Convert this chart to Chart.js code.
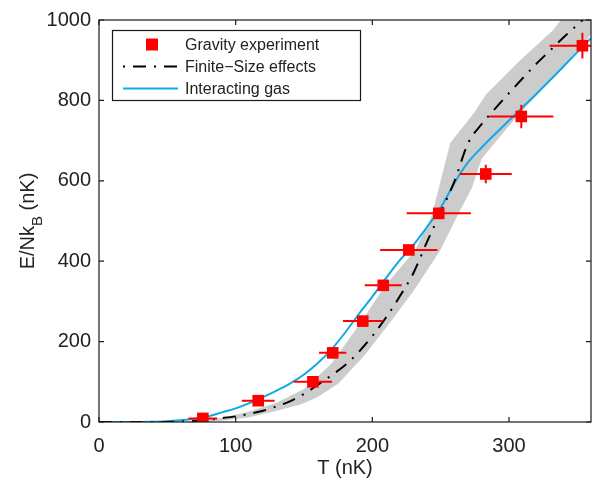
<!DOCTYPE html>
<html>
<head>
<meta charset="utf-8">
<script src="https://cdn.jsdelivr.net/npm/chart.js@4.4.0/dist/chart.umd.min.js"></script>
<style>
  html, body { margin: 0; padding: 0; background: #fff; }
  #wrap { width: 601px; height: 485px; position: relative; }
</style>
</head>
<body>
<div id="wrap"><canvas id="myChart"></canvas></div>
<script>
const xTicks = [0, 100, 200, 300]
const yTicks = [0, 200, 400, 600, 800, 1000]

// Gravity experiment
const expT = [76, 116.5, 156.5, 171, 193, 208, 226.7, 248.6, 283, 309, 353.7]
const expE = [9, 53, 100, 172, 251, 340, 428, 519, 617, 760, 936]
const expTErr = [10.5, 12, 14, 10, 14.5, 13.5, 21, 23.5, 19, 23.5, 24]
const expEErr = [6, 6, 8, 14, 12, 12, 12, 14, 23, 29, 32]

// Interacting gas
const blueT = [0, 30, 40, 50, 60, 70, 80, 90, 100, 110, 120, 130, 140, 150, 160, 170, 180, 190, 200, 210, 220, 230, 240, 250, 260, 265, 270, 280, 290, 300, 310, 320, 330, 340, 350, 360]
const blueE = [0, 0.3, 0.8, 2, 4.5, 8, 14, 24, 34, 47, 62, 78, 96, 118, 146, 180, 222, 268, 312, 358, 402, 440, 485, 533, 594, 622, 646, 683, 717, 750, 783, 816, 850, 885, 920, 955]

// Finite-Size effects
const blackT = [0, 40, 60, 75, 88, 100, 111, 120, 130, 140, 150, 160, 170, 180, 190, 200, 210, 220, 230, 240, 250, 260, 270, 280, 290, 300, 310, 320, 330, 340, 350, 354]
const blackE = [0, 0.2, 1, 4, 9, 14, 21, 28, 39, 52, 70, 92, 116, 141, 174, 214, 260, 312, 370, 448, 522, 598, 693, 741, 780, 818, 855, 891, 924, 957, 988, 1000]

// grey band edges
const bandUpperT = [60, 90, 110, 130, 150, 170, 190, 210, 231, 243, 250, 257, 275, 283, 307, 332, 338, 375]
const bandUpperE = [0, 10, 26, 48, 82, 145, 240, 342, 426, 508, 600, 694, 772, 814, 896, 974, 1000, 1000]
const bandLowerT = [60, 90, 110, 130, 148, 160, 175, 194, 214, 231, 249.5, 264, 272.8, 280, 292.4, 307, 331.6, 356, 362, 375]
const bandLowerE = [0, 3, 12, 28, 44, 62, 95, 165, 252, 330, 426, 525, 582, 655, 706, 764, 855, 945, 975, 1000]

const toPts = (xs, ys) => xs.map((v, i) => ({ x: v, y: ys[i] }))
const bandPts = toPts(bandUpperT, bandUpperE).concat(toPts(bandLowerT, bandLowerE).reverse())

const fontName = '"Liberation Sans", Arial, Helvetica, sans-serif'
const textColor = '#222'
const blackDash = [13, 8, 2, 8]

const framePlugin = {
    id: 'frame',
    afterDatasetsDraw(chart) {
        const { ctx, chartArea: a, scales: { x, y } } = chart
        ctx.save()
        ctx.beginPath()
        ctx.rect(a.left, a.top, a.right - a.left, a.bottom - a.top)
        ctx.clip()
        ctx.strokeStyle = '#ff0000'
        ctx.lineWidth = 2
        expT.forEach((t, i) => {
            const px = x.getPixelForValue(t)
            const py = y.getPixelForValue(expE[i])
            ctx.beginPath()
            ctx.moveTo(x.getPixelForValue(t - expTErr[i]), py)
            ctx.lineTo(x.getPixelForValue(t + expTErr[i]), py)
            ctx.moveTo(px, y.getPixelForValue(expE[i] - expEErr[i]))
            ctx.lineTo(px, y.getPixelForValue(expE[i] + expEErr[i]))
            ctx.stroke()
        })
        ctx.restore()
    },
    afterDraw(chart) {
        const { ctx, chartArea: a, scales: { x, y } } = chart
        ctx.save()
        // box + inward ticks
        ctx.strokeStyle = '#1a1a1a'
        ctx.lineWidth = 1.2
        ctx.strokeRect(a.left, a.top, a.right - a.left, a.bottom - a.top)
        ctx.beginPath()
        xTicks.forEach(v => {
            const px = x.getPixelForValue(v)
            ctx.moveTo(px, a.bottom); ctx.lineTo(px, a.bottom - 5)
            ctx.moveTo(px, a.top); ctx.lineTo(px, a.top + 5)
        })
        yTicks.forEach(v => {
            const py = y.getPixelForValue(v)
            ctx.moveTo(a.left, py); ctx.lineTo(a.left + 5, py)
            ctx.moveTo(a.right, py); ctx.lineTo(a.right - 5, py)
        })
        ctx.stroke()

        // axis titles
        ctx.fillStyle = textColor
        ctx.font = '20px ' + fontName
        ctx.textAlign = 'center'
        ctx.textBaseline = 'alphabetic'
        ctx.fillText('T (nK)', (a.left + a.right) / 2, 474)

        ctx.save()
        ctx.translate(34, (a.top + a.bottom) / 2)
        ctx.rotate(-Math.PI / 2)
        ctx.textAlign = 'left'
        const big = '20px ' + fontName
        const small = '15px ' + fontName
        ctx.font = big
        const w1 = ctx.measureText('E/Nk').width
        const w3 = ctx.measureText(' (nK)').width
        ctx.font = small
        const w2 = ctx.measureText('B').width
        let sx = -(w1 + w2 + w3) / 2
        ctx.font = big
        ctx.fillText('E/Nk', sx, 0)
        sx += w1
        ctx.font = small
        ctx.fillText('B', sx, 8)
        sx += w2
        ctx.font = big
        ctx.fillText(' (nK)', sx, 0)
        ctx.restore()

        // legend
        const lx = 112.5, ly = 30.5, lw = 248, lh = 70
        ctx.fillStyle = '#fff'
        ctx.fillRect(lx, ly, lw, lh)
        ctx.strokeStyle = '#1a1a1a'
        ctx.lineWidth = 1.2
        ctx.strokeRect(lx, ly, lw, lh)
        const ds = chart.data.datasets
        const rows = [44.5, 66.5, 88.5]
        ctx.font = '16px ' + fontName
        ctx.textAlign = 'left'
        ctx.textBaseline = 'middle'
        ds.slice(0, 3).forEach((d, i) => {
            const ry = rows[i]
            if (i === 0) {
                ctx.fillStyle = d.backgroundColor
                ctx.fillRect(146, ry - 6, 12, 12)
            } else {
                ctx.strokeStyle = d.borderColor
                ctx.lineWidth = 2
                ctx.setLineDash(i === 1 ? [2, 8, 13, 8] : [])
                ctx.beginPath()
                ctx.moveTo(123, ry); ctx.lineTo(178, ry)
                ctx.stroke()
                ctx.setLineDash([])
            }
            ctx.fillStyle = textColor
            ctx.fillText(d.label, 185, ry + 1)
        })
        ctx.restore()
    }
}

const ctx = document.getElementById('myChart').getContext('2d')
const myChart = new Chart(ctx, {
    type: 'line',
    data: {
        datasets: [{
            label: 'Gravity experiment',
            data: toPts(expT, expE),
            showLine: false,
            pointStyle: 'rect',
            pointRadius: 8.2,
            pointBackgroundColor: '#ff0000',
            backgroundColor: '#ff0000',
            pointBorderWidth: 0,
            borderColor: '#ff0000'
        }, {
            label: 'Finite\u2212Size effects',
            data: toPts(blackT, blackE),
            borderColor: '#000000',
            borderWidth: 2,
            borderDash: blackDash,
            pointRadius: 0,
            cubicInterpolationMode: 'monotone',
            fill: false
        }, {
            label: 'Interacting gas',
            data: toPts(blueT, blueE),
            borderColor: '#0eaae8',
            borderWidth: 2,
            pointRadius: 0,
            cubicInterpolationMode: 'monotone',
            fill: false
        }, {
            label: 'band',
            data: bandPts,
            borderWidth: 0,
            borderColor: 'rgba(0,0,0,0)',
            backgroundColor: '#cccccc',
            pointRadius: 0,
            tension: 0,
            fill: 'shape'
        }]
    },
    options: {
        responsive: true,
        maintainAspectRatio: false,
        animation: false,
        devicePixelRatio: 1,
        layout: { padding: { top: 18, right: 10, left: 0, bottom: 0 } },
        plugins: {
            legend: { display: false },
            tooltip: { enabled: false }
        },
        scales: {
            x: {
                type: 'linear',
                min: 0,
                max: 360,
                afterBuildTicks: s => { s.ticks = xTicks.map(v => ({ value: v })) },
                afterFit: s => { s.height = 63 },
                grid: { display: false, drawTicks: false },
                border: { display: false },
                ticks: {
                    padding: 12,
                    color: textColor,
                    font: { size: 20, family: fontName },
                    callback: v => String(v)
                }
            },
            y: {
                min: 0,
                max: 1000,
                afterBuildTicks: s => { s.ticks = yTicks.map(v => ({ value: v })) },
                afterFit: s => { s.width = 99 },
                grid: { display: false, drawTicks: false },
                border: { display: false },
                ticks: {
                    padding: 8,
                    color: textColor,
                    font: { size: 20, family: fontName },
                    callback: v => String(v)
                }
            }
        }
    },
    plugins: [framePlugin]
})
</script>
</body>
</html>
